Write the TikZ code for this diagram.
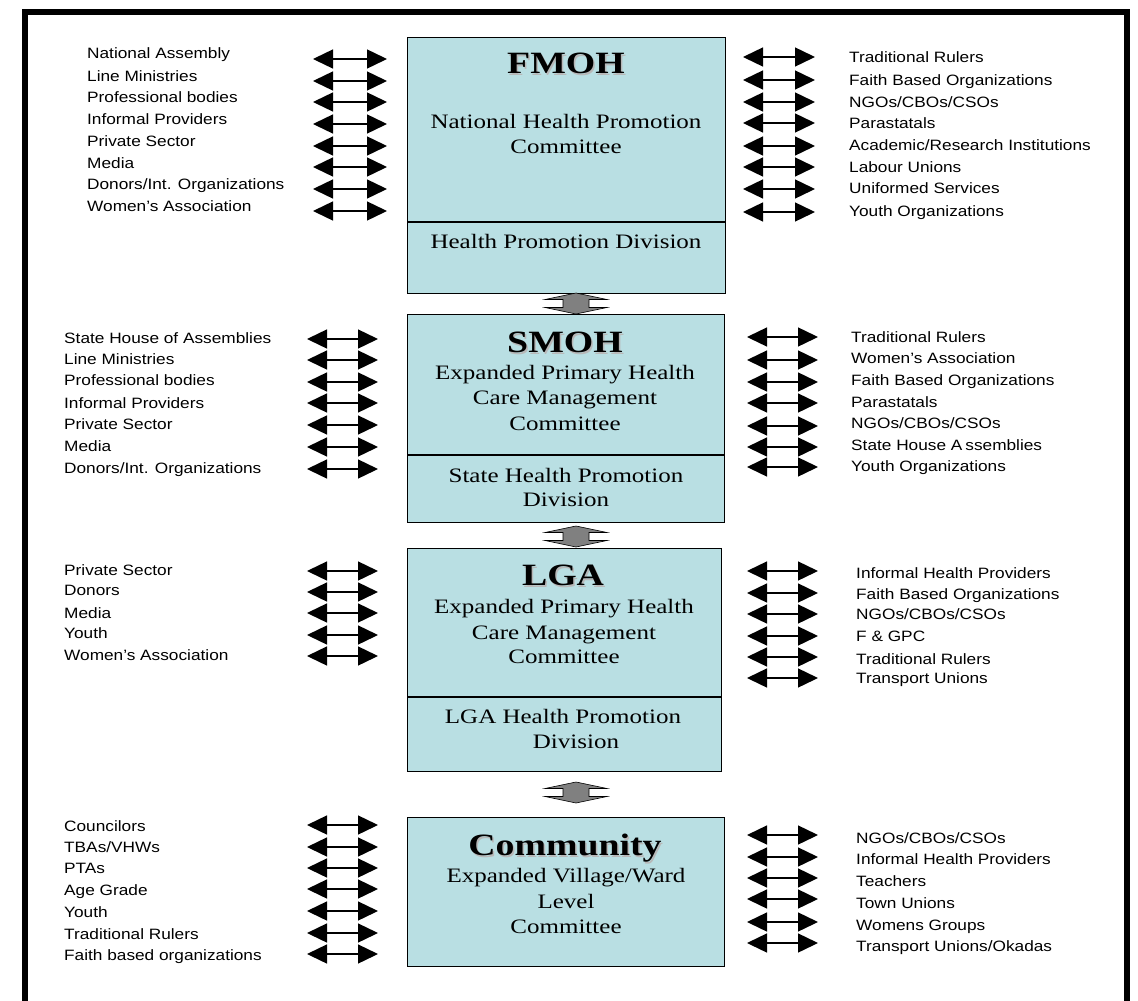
\documentclass[tikz,border=0pt]{standalone}
\usepackage{fontspec}
\usetikzlibrary{arrows.meta}
\newfontfamily\lblfont[FakeStretch=1.15]{Liberation Sans}
\newfontfamily\boxfont[FakeStretch=1.22]{Liberation Serif}
\definecolor{boxblue}{RGB}{185,223,227}
\definecolor{arrgray}{RGB}{128,128,128}
\begin{document}
\begin{tikzpicture}[x=1pt,y=-1pt,
  lbl/.style={anchor=base west, inner sep=0pt, font=\lblfont\fontsize{15}{18}\selectfont},
  dbl/.style={line width=1.4pt, {Triangle[length=20pt,width=19pt]}-{Triangle[length=20pt,width=19pt]}},
  levelbox/.style={draw, line width=1.3pt, fill=boxblue, anchor=north west, inner sep=0pt},
  divline/.style={line width=1.3pt},
  boxtxt/.style={anchor=base, inner sep=0pt, font=\boxfont\fontsize{20.5}{25}\selectfont},
  ttl/.style={anchor=base, inner sep=0pt, font=\boxfont\bfseries\fontsize{31}{36}\selectfont},
  ttlshadow/.style={ttl, text=black!28},
  fatarrow/.pic={\draw[fill=arrgray, line width=0.6pt, line join=miter]
     (0,-10.5) -- (31,-4) -- (13,-4) -- (13,4) -- (31,4) -- (0,10.5)
     -- (-31,4) -- (-13,4) -- (-13,-4) -- (-31,-4) -- cycle;},
]
\useasboundingbox (0,0) rectangle (1138,1001);
\fill[white] (0,0) rectangle (1138,1001);
% frame
\draw[line width=6pt] (25,1012) -- (25,12) -- (1126.5,12) -- (1126.5,1012);

% level boxes
\node[levelbox, minimum width=318pt, minimum height=256pt] (fmoh) at (407,37) {};
\node[levelbox, minimum width=317pt, minimum height=208pt] (smoh) at (407,314) {};
\node[levelbox, minimum width=314pt, minimum height=223pt] (lga) at (407,548) {};
\node[levelbox, minimum width=317pt, minimum height=149pt] (comm) at (407,817) {};

\coordinate (fmohdiv) at (0,222);
\coordinate (smohdiv) at (0,455);
\coordinate (lgadiv) at (0,697);
\draw[divline] (fmoh.west |- fmohdiv) -- (fmoh.east |- fmohdiv);
\draw[divline] (smoh.west |- smohdiv) -- (smoh.east |- smohdiv);
\draw[divline] (lga.west |- lgadiv) -- (lga.east |- lgadiv);

% FMOH texts
\node[ttlshadow] (fmohS) at (567.5,75) {FMOH};
\node[ttl] (fmohT) at (566,73.5) {FMOH};
\node[boxtxt] (fmohA) at (566,128.5) {National Health Promotion};
\node[boxtxt] (fmohB) at (566,153.5) {Committee};
\node[boxtxt] (fmohD) at (566,248.5) {Health Promotion Division};

% SMOH texts
\node[ttlshadow] (smohS) at (566.5,354) {SMOH};
\node[ttl] (smohT) at (565,352.5) {SMOH};
\node[boxtxt] (smohA) at (565,379.5) {Expanded Primary Health};
\node[boxtxt] (smohB) at (565,404.5) {Care Management};
\node[boxtxt] (smohC) at (565,430.5) {Committee};
\node[boxtxt] (smohD) at (566,482.5) {State Health Promotion};
\node[boxtxt] (smohE) at (566,506.5) {Division};

% LGA texts
\node[ttlshadow] (lgaS) at (564.5,587) {LGA};
\node[ttl] (lgaT) at (563,585.5) {LGA};
\node[boxtxt] (lgaA) at (564,613.5) {Expanded Primary Health};
\node[boxtxt] (lgaB) at (564,639.5) {Care Management};
\node[boxtxt] (lgaC) at (564,663.5) {Committee};
\node[boxtxt] (lgaD) at (563,723.5) {LGA Health Promotion};
\node[boxtxt] (lgaE) at (576,748.5) {Division};

% Community texts
\node[ttlshadow] (commS) at (566.5,857) {Community};
\node[ttl] (commT) at (565,855.5) {Community};
\node[boxtxt] (commA) at (566,882.5) {Expanded Village/Ward};
\node[boxtxt] (commB) at (566,908.5) {Level};
\node[boxtxt] (commC) at (566,933.5) {Committee};

% fat arrows between levels
\pic at (576,303.5) {fatarrow};
\pic at (576,536.5) {fatarrow};
\pic at (576,792.5) {fatarrow};

% FMOH left
\foreach \ty/\ay/\t [count=\i] in {
  53/59/{National Assembly}, 76/81/{Line Ministries}, 97/102/{Professional bodies},
  119/124/{Informal Providers}, 141/146/{Private Sector}, 163/167/{Media},
  184/189/{Donors/Int. Organizations}, 206/211/{Women’s Association}} {
  \node[lbl] (fl\i) at (87,{\ty+5.3}) {\t};
  \coordinate (fla\i) at (313,\ay);
  \coordinate (flb\i) at (387,\ay);
  \draw[dbl] (fla\i) -- (flb\i);
}
% FMOH right
\foreach \ty/\ay/\t [count=\i] in {
  57/57/{Traditional Rulers}, 80/80/{Faith Based Organizations}, 102/102/{NGOs/CBOs/CSOs},
  123/123/{Parastatals}, 145/146/{Academic/Research Institutions}, 167/167/{Labour Unions},
  188/189/{Uniformed Services}, 211/212/{Youth Organizations}} {
  \node[lbl] (fr\i) at (849,{\ty+5.3}) {\t};
  \coordinate (fra\i) at (743,\ay);
  \coordinate (frb\i) at (815,\ay);
  \draw[dbl] (fra\i) -- (frb\i);
}
% SMOH left
\foreach \ty/\ay/\t [count=\i] in {
  338/339/{State House of Assemblies}, 359/360/{Line Ministries}, 380/382/{Professional bodies},
  403/403/{Informal Providers}, 424/425/{Private Sector}, 446/447/{Media},
  468/469/{Donors/Int. Organizations}} {
  \node[lbl] (sl\i) at (64,{\ty+5.3}) {\t};
  \coordinate (sla\i) at (307,\ay);
  \coordinate (slb\i) at (378,\ay);
  \draw[dbl] (sla\i) -- (slb\i);
}
% SMOH right
\foreach \ty/\ay/\t [count=\i] in {
  337/337/{Traditional Rulers}, 358/360/{Women’s Association}, 380/382/{Faith Based Organizations},
  402/403/{Parastatals}, 423/426/{NGOs/CBOs/CSOs}, 445/447/{State House A\kern3pt ssemblies},
  466/467/{Youth Organizations}} {
  \node[lbl] (sr\i) at (851,{\ty+5.3}) {\t};
  \coordinate (sra\i) at (747,\ay);
  \coordinate (srb\i) at (818,\ay);
  \draw[dbl] (sra\i) -- (srb\i);
}
% LGA left
\foreach \ty/\ay/\t [count=\i] in {
  570/571/{Private Sector}, 590/592/{Donors}, 613/613/{Media},
  633/635/{Youth}, 655/656/{Women’s Association}} {
  \node[lbl] (ll\i) at (64,{\ty+5.3}) {\t};
  \coordinate (lla\i) at (307,\ay);
  \coordinate (llb\i) at (378,\ay);
  \draw[dbl] (lla\i) -- (llb\i);
}
% LGA right
\foreach \ty/\ay/\t [count=\i] in {
  573/571/{Informal Health Providers}, 594/593/{Faith Based Organizations}, 614/614/{NGOs/CBOs/CSOs},
  636/636/{F \& GPC}, 659/657/{Traditional Rulers}, 678/678/{Transport Unions}} {
  \node[lbl] (lr\i) at (856,{\ty+5.3}) {\t};
  \coordinate (lra\i) at (747,\ay);
  \coordinate (lrb\i) at (818,\ay);
  \draw[dbl] (lra\i) -- (lrb\i);
}
% Community left
\foreach \ty/\ay/\t [count=\i] in {
  826/825/{Councilors}, 847/847/{TBAs/VHWs}, 868/868/{PTAs},
  890/889/{Age Grade}, 912/911/{Youth}, 934/933/{Traditional Rulers},
  955/954/{Faith based organizations}} {
  \node[lbl] (cl\i) at (64,{\ty+5.3}) {\t};
  \coordinate (cla\i) at (307,\ay);
  \coordinate (clb\i) at (378,\ay);
  \draw[dbl] (cla\i) -- (clb\i);
}
% Community right
\foreach \ty/\ay/\t [count=\i] in {
  838/835/{NGOs/CBOs/CSOs}, 859/857/{Informal Health Providers}, 881/878/{Teachers},
  903/899/{Town Unions}, 925/922/{Womens Groups}, 946/943/{Transport Unions/Okadas}} {
  \node[lbl] (cr\i) at (856,{\ty+5.3}) {\t};
  \coordinate (cra\i) at (747,\ay);
  \coordinate (crb\i) at (818,\ay);
  \draw[dbl] (cra\i) -- (crb\i);
}
\end{tikzpicture}
\end{document}
